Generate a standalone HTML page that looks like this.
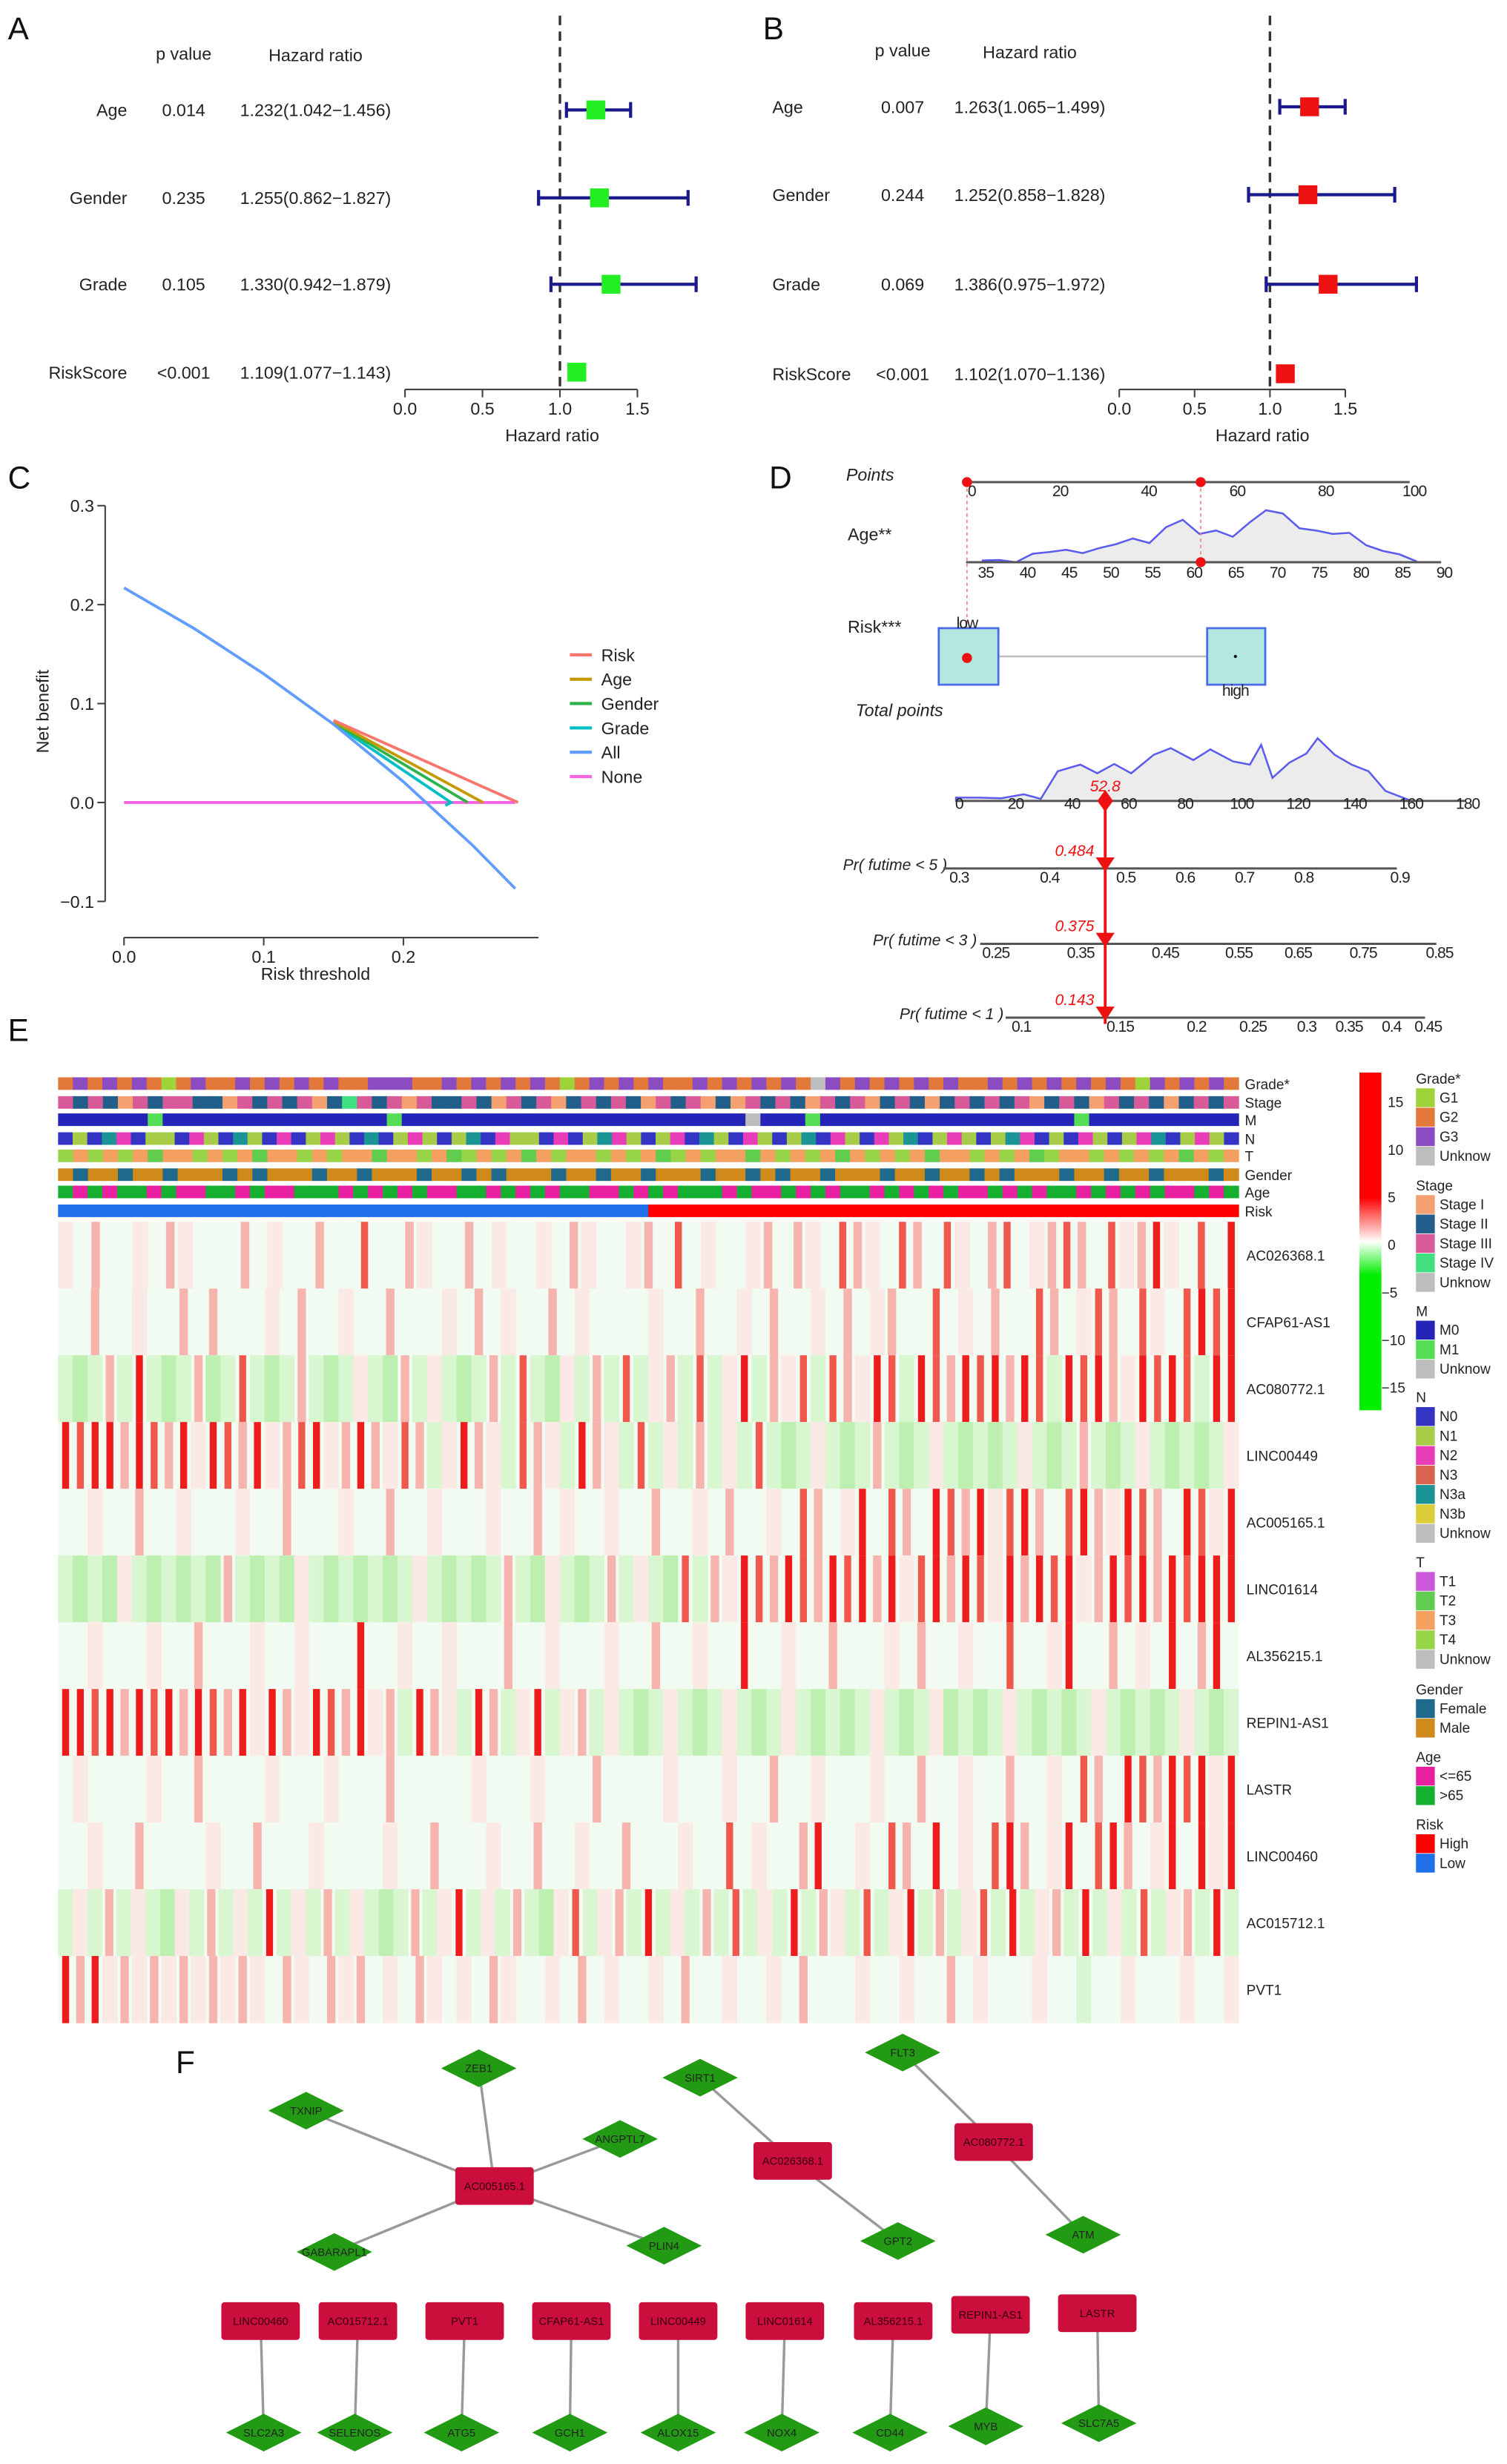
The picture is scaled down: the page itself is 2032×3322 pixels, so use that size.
<!DOCTYPE html>
<html><head><meta charset="utf-8"><title>Figure</title>
<style>
html,body{margin:0;padding:0;background:#fff;}
svg{display:block;font-family:"Liberation Sans",Arial,sans-serif;}
</style></head>
<body>
<svg id="fig" xmlns="http://www.w3.org/2000/svg" width="2032" height="3322" viewBox="0 0 960 1569" preserveAspectRatio="none">
<defs>
<linearGradient id="cbar" x1="0" y1="0" x2="0" y2="1">
<stop offset="0" stop-color="#ff0000"/><stop offset="0.37" stop-color="#ff0000"/>
<stop offset="0.5" stop-color="#ffffff"/><stop offset="0.6" stop-color="#00ee00"/><stop offset="1" stop-color="#00ee00"/>
</linearGradient>
</defs>
</svg>
<script>
// ---------- DATA ----------
const fpVars=["Age","Gender","Grade","RiskScore"];
const fpA_p=["0.014","0.235","0.105","<0.001"];
const fpA_hr=[1.232,1.255,1.330,1.109];
const fpA_lo=[1.042,0.862,0.942,1.077];
const fpA_hi=[1.456,1.827,1.879,1.143];
const fpB_p=["0.007","0.244","0.069","<0.001"];
const fpB_hr=[1.263,1.252,1.386,1.102];
const fpB_lo=[1.065,0.858,0.975,1.070];
const fpB_hi=[1.499,1.828,1.972,1.136];
const fpTicks=[0,0.5,1.0,1.5];

const dcaAllT=[0,0.05,0.10,0.15,0.20,0.25,0.28];
const dcaAllV=[0.217,0.176,0.130,0.079,0.021,-0.044,-0.087];
const dcaRiskT=[0.15,0.282]; const dcaRiskV=[0.083,0.0];
const dcaAgeT=[0.15,0.257]; const dcaAgeV=[0.082,0.0];
const dcaGenderT=[0.15,0.246]; const dcaGenderV=[0.081,0.0];
const dcaGradeT=[0.15,0.234,0.23]; const dcaGradeV=[0.080,0.0,-0.003];
const dcaNoneT=[0,0.28]; const dcaNoneV=[0,0];
const dcaXTicks=[0,0.1,0.2]; const dcaYTicks=[-0.1,0,0.1,0.2,0.3];

const ptsTicks=[0,20,40,60,80,100];
const ageTicks=[35,40,45,50,55,60,65,70,75,80,85,90];
const ageDensX=[35,37,39,41,43,45,47,49,51,53,55,57,59,61,63,65,67,69,71,73,75,77,79,81,83,85,87];
const ageDensY=[0.03,0.04,0.0,0.15,0.18,0.22,0.16,0.25,0.32,0.42,0.34,0.62,0.75,0.5,0.56,0.45,0.7,0.92,0.86,0.6,0.56,0.5,0.52,0.3,0.2,0.14,0.02];
const totTicks=[0,20,40,60,80,100,120,140,160,180];
const totDensX=[0,8,16,24,30,36,44,50,56,62,70,76,84,90,98,104,108,112,118,124,128,134,140,146,152,160];
const totDensY=[0.05,0.05,0.04,0.1,0.03,0.45,0.55,0.42,0.56,0.42,0.7,0.8,0.62,0.78,0.6,0.55,0.85,0.35,0.58,0.72,0.95,0.7,0.55,0.45,0.15,0.02];
const totalScore=52.8;
const pr5Ticks=["0.3","0.4","0.5","0.6","0.7","0.8","0.9"]; const pr5Pts=[0,32,59,80,101,122,156];
const pr3Ticks=["0.25","0.35","0.45","0.55","0.65","0.75","0.85"]; const pr3Pts=[13,43,73,99,120,143,170];
const pr1Ticks=["0.1","0.15","0.2","0.25","0.3","0.35","0.4","0.45"]; const pr1Pts=[22,57,84,104,123,138,153,166];
const prValues=["0.484","0.375","0.143"];

const annNames=["Grade*","Stage","M","N","T","Gender","Age","Risk"];
const annRows=[
"bcbcbcbabcbbcbcbcbcbbcccbbcbcbcbcbabcbcbcbbcbcbcbcbucbcbcbcbcbbcbcbcbcbcbacbcbcb",
"3232132332213232312432313223213231232321323121323213231232123232312321323212323",
"0000001000000000000000100000000000000000000000u00010000000000000000010000000000",
"abaecabbacbaebacabcbaeabcbabeacbbacabecbabcaebacbabeacbacbeabcbabecabacbabceabcba",
"4343432334343233434332334324343234334343243433234343234343233434324334343432343",
"mfmmfmmfmmmfmfmmmfmmfmmmfmmfmfmmmfmmfmmfmmmfmmfmfmmfmmmfmmfmmfmfmmmfmmfmmfmmmfm",
"oyoyooyoyyooyoyyoooyoyoyoyyooyoyoyooyyoyoyoooyoyyoyoyooyoyoyoyyoyoyooyoyoyoyyoyo",
"LLLLLLLLLLLLLLLLLLLLLLLLLLLLLLLLLLLLLLLLHHHHHHHHHHHHHHHHHHHHHHHHHHHHHHHHHHHHHHHH"];
const genes=["AC026368.1","CFAP61-AS1","AC080772.1","LINC00449","AC005165.1","LINC01614","AL356215.1","REPIN1-AS1","LASTR","LINC00460","AC015712.1","PVT1"];
const heatRows=[
"w.p..w.pw...p.w..p..r..pw..p.w..w.pw..wp.r.w..wp.pw.rpw.rp.rw.pr.wprp.rwpRw.r.R",
"..p..w..p.p...w.p..w..p...w.p.w..p.w....w..p..w.p..w.p.wp..r.w.p..rp.wrp.rw.rRrR",
"gGgpgRgGgpGgrgGgpgGgwgGpgwgGgpgrgGwgpgrgwpgrgwRgpwrgrpwRrgRrpRrRpRrgRrRpwRrRrgRR",
"RrRRpRrpRwRrpRwprRwpRpwrpgwRpwgrpwgRpwgrgwgpgwgrgGgwgGgpgGgwgGgGgwgGgpgGgwgGgGgw",
"..w..p..w...w..p...w..p..w...w..p.w..w..p..w.p..w.rp.wR.rp.RrpRwrRp.rRpwRrp.RrwR",
"gGgGwgGgGgGpgGgGwgGgGgGgwgGgGgpgGwgGgpgwgGrgpwRrpRrpRrRpRwrRpRrwRpRrRwpRrRpRrRRR",
"..w...w..p...w..w...R..w..w...p..w...w..p..w..R..w..p...w.p..w..r..wR..p.w.R.pR.",
"RRrRpRrRpRrpRwRpwRrpRwpgRpwgRpgwRgwpgwgGgwgGgwgGgwgGgGgwgGgwGgGgwgGgGgwgGgGgwgGg",
".w....w..p....w...w...p.....w...w...p....w...w..p..w...w..p..w..p..w.rp.RrpRrRwR",
"..w..p....w..p...w....w..p...w..p..w..p...w..r.w..pR..w.rp.R.w.rRp.wR.rRp.wR.RwR",
"gwgpgwgGwgpgwgRgwgpgwgGgpgwRgwgpgGwrgwpgRgwgpgrgwgRgpwgrgwRgpgwrgRgwpgRgwgrgwpgRg",
"RpRwpwpwpwpwpw.pw.pwp.w.pw.w.pw..w.p.w..w.p..w..w.p...w..w..p.w...w..g..w...w..w"];
const cbarTicks=[15,10,5,0,-5,-10,-15];

// ---------- helpers ----------
const S='http://www.w3.org/2000/svg';
const svg=document.getElementById('fig');
function mk(tag,attrs,parent){const e=document.createElementNS(S,tag);for(const k in attrs)e.setAttribute(k,attrs[k]);(parent||svg).appendChild(e);return e;}
function tx(x,y,s,size,anchor,parent,extra){const e=mk('text',Object.assign({x:x,y:y,'font-size':size,'text-anchor':anchor||'start',fill:'#222'},extra||{}),parent);e.textContent=s;return e;}
function grp(name){const g=mk('g',{});return g;}

[["A",5,25],["B",486,25],["C",5,311],["D",490,311],["E",5,663],["F",112,1320]].forEach(function(p){
 const t=tx(p[1],p[2],p[0],20,'start',svg,{fill:'#111'});
 
 
});

// ---------- Forest plots ----------
function forest(name,cfg,pv,hr,lo,hi,color){
 const g=grp(name);
 const X=v=>cfg.x0+v*cfg.k;
 const hp=tx(cfg.pX,cfg.hy,"p value",11,'middle',g);
 
 
 const hh=tx(cfg.hrX,cfg.hy+1,"Hazard ratio",11,'middle',g);
 
 
 const dl=mk('line',{x1:X(1),x2:X(1),y1:10,y2:cfg.axY,stroke:'#333','stroke-width':1.6,'stroke-dasharray':'6,4'},g);
 
 
 for(let i=0;i<fpVars.length;i++){
  const y=cfg.rows[i];
  const lb=tx(cfg.lx,y+4,fpVars[i],11,cfg.la,g);
  
  
  const pt=tx(cfg.pX,y+4,pv[i],11,'middle',g);
  
  
  const ht=tx(cfg.hrX,y+4,hr[i].toFixed(3)+"("+lo[i].toFixed(3)+"\u2212"+hi[i].toFixed(3)+")",11,'middle',g);
  
  
  const ci=mk('line',{x1:X(lo[i]),x2:X(hi[i]),y1:y,y2:y,stroke:'#1a1a8c','stroke-width':2},g);
  
  
  [lo[i],hi[i]].forEach(function(v){const c=mk('line',{x1:X(v),x2:X(v),y1:y-5,y2:y+5,stroke:'#1a1a8c','stroke-width':2},g);
   
   });
  const b=mk('rect',{x:X(hr[i])-6,y:y-6,width:12,height:12,fill:color},g);
  
  
 }
 const ax=mk('line',{x1:X(0),x2:X(1.5),y1:cfg.axY,y2:cfg.axY,stroke:'#444','stroke-width':1},g);
 
 
 fpTicks.forEach(function(v){
  const tk=mk('line',{x1:X(v),x2:X(v),y1:cfg.axY,y2:cfg.axY+5,stroke:'#444'},g);
  
  
  const tl=tx(X(v),cfg.axY+16,v.toFixed(1),11,'middle',g);
  
  
 });
 const at=tx(X(0.95),cfg.axY+33,"Hazard ratio",11,'middle',g);
 
 
}
forest('forest-plot-a',{x0:258,k:98.7,hy:38,pX:117,hrX:201,lx:81,la:'end',rows:[70,126,181,237],axY:248},fpA_p,fpA_hr,fpA_lo,fpA_hi,'#22ee22');
forest('forest-plot-b',{x0:713,k:96,hy:36,pX:575,hrX:656,lx:492,la:'start',rows:[68,124,181,238],axY:248},fpB_p,fpB_hr,fpB_lo,fpB_hi,'#ee1111');

// ---------- DCA ----------
(function(){
 const g=grp('decision-curve-chart');
 const X=t=>79+t*890, Y=v=>511-v*630;
 const ya=mk('line',{x1:67,x2:67,y1:Y(0.3),y2:Y(-0.1),stroke:'#444'},g);
 
 
 dcaYTicks.forEach(function(v){
  const t=mk('line',{x1:62,x2:67,y1:Y(v),y2:Y(v),stroke:'#444'},g);
  
  
  const l=tx(60,Y(v)+4,(v<0?"\u2212":"")+Math.abs(v).toFixed(1),11,'end',g);
  
  
 });
 const xa=mk('line',{x1:X(0),x2:X(0.2),y1:597,y2:597,stroke:'#444'},g);
 
 
 const xa2=mk('line',{x1:X(0.2),x2:343,y1:597,y2:597,stroke:'#444'},g);
 
 
 dcaXTicks.forEach(function(v){
  const t=mk('line',{x1:X(v),x2:X(v),y1:597,y2:602,stroke:'#444'},g);
  
  
  const l=tx(X(v),613,v.toFixed(1),11,'middle',g);
  
  
 });
 const yt=tx(0,0,"Net benefit",11,'middle',g,{transform:'translate(31,453) rotate(-90)'});
 
 
 const xt=tx(201,624,"Risk threshold",11,'middle',g);
 
 
 const series=[["None",dcaNoneT,dcaNoneV,'#f564e3'],["Grade",dcaGradeT,dcaGradeV,'#00bfc4'],["Gender",dcaGenderT,dcaGenderV,'#2cb34a'],["Age",dcaAgeT,dcaAgeV,'#c49a00'],["Risk",dcaRiskT,dcaRiskV,'#f8766d'],["All",dcaAllT,dcaAllV,'#619cff']];
 series.forEach(function(s){
  const d=s[1].map((t,i)=>(i?'L':'M')+X(t).toFixed(1)+','+Y(s[2][i]).toFixed(1)).join(' ');
  const p=mk('path',{d:d,fill:'none',stroke:s[3],'stroke-width':1.8},g);
  
  
 });
 const leg=[["Risk",'#f8766d'],["Age",'#c49a00'],["Gender",'#2cb34a'],["Grade",'#00bfc4'],["All",'#619cff'],["None",'#f564e3']];
 leg.forEach(function(l,i){
  const y=417+i*15.5;
  const ln=mk('line',{x1:363,x2:377,y1:y,y2:y,stroke:l[1],'stroke-width':2},g);
  
  
  const t=tx(383,y+4,l[0],11,'start',g);
  
  
 });
})();

// ---------- Nomogram ----------
(function(){
 const g=grp('nomogram');
 const PX=v=>616+v*2.82, AX=a=>626+(a-35)*5.31, TX=v=>609+v*1.8;
 function lab(x,y,s,name){const t=tx(x,y,s,11,'start',g,{'font-style':'italic'});}
 lab(539,306,"Points",'points-label');
 const ag=tx(540,344,"Age**",11,'start',g);  
 const rk=tx(540,403,"Risk***",11,'start',g);  
 lab(545,456,"Total points",'total-points-label');
 function axis(x1,x2,y,name){const l=mk('line',{x1:x1,x2:x2,y1:y,y2:y,stroke:'#555','stroke-width':1.4},g);}
 function tl(x,y,s,name){const t=tx(x,y,s,10,'middle',g,{'letter-spacing':'-0.5'});}
 axis(PX(0),PX(100),307,'points-axis');
 ptsTicks.forEach(v=>tl(PX(v)+3,316,String(v),'points-tick-label'));
 let d='M'+AX(ageDensX[0])+',358 '+ageDensX.map((a,i)=>'L'+AX(a).toFixed(1)+','+(358-ageDensY[i]*36).toFixed(1)).join(' ')+' L'+AX(ageDensX[ageDensX.length-1])+',358 Z';
 const ad=mk('path',{d:d,fill:'#ececec',stroke:'#5b5bee','stroke-width':1.2},g);
 
 
 axis(AX(33),AX(90),358,'age-axis');
 ageTicks.forEach(v=>tl(AX(v)+2,368,String(v),'age-tick-label'));
 const g1=mk('line',{x1:PX(0),x2:PX(0),y1:307,y2:420,stroke:'#f08080','stroke-width':0.8,'stroke-dasharray':'2,2'},g);
  
 const g2=mk('line',{x1:PX(52.8),x2:PX(52.8),y1:307,y2:358,stroke:'#f08080','stroke-width':0.8,'stroke-dasharray':'2,2'},g);
  
 [[PX(0),307],[PX(52.8),307],[PX(52.8),358]].forEach(function(p){const c=mk('circle',{cx:p[0],cy:p[1],r:3.2,fill:'#ee1111'},g);});
 const rl=mk('line',{x1:636,x2:769,y1:418,y2:418,stroke:'#bbb','stroke-width':1.2},g);
  
 const b1=mk('rect',{x:598,y:400,width:38,height:36,fill:'#b2e8e0',stroke:'#4a6ae8','stroke-width':1.3},g);
  
 const b2=mk('rect',{x:769,y:400,width:37,height:36,fill:'#b2e8e0',stroke:'#4a6ae8','stroke-width':1.3},g);
  
 const c1=mk('circle',{cx:616,cy:419,r:3.2,fill:'#ee1111'},g);  
 const c2=mk('circle',{cx:787,cy:418,r:1,fill:'#111'},g);  
 tl(616,400,"low",'risk-low-label'); tl(787,443,"high",'risk-high-label');
 d='M'+TX(totDensX[0])+',510 '+totDensX.map((a,i)=>'L'+TX(a).toFixed(1)+','+(510-totDensY[i]*42).toFixed(1)).join(' ')+' L'+TX(totDensX[totDensX.length-1])+',510 Z';
 const td=mk('path',{d:d,fill:'#ececec',stroke:'#5b5bee','stroke-width':1.2},g);
  
 axis(TX(0),TX(180),510,'total-points-axis');
 totTicks.forEach(v=>tl(TX(v)+2,515,String(v),'total-points-tick-label'));
 const prRows=[["Pr( futime < 5 )",553,pr5Ticks,pr5Pts,537],["Pr( futime < 3 )",601,pr3Ticks,pr3Pts,556],["Pr( futime < 1 )",648,pr1Ticks,pr1Pts,573]];
 prRows.forEach(function(r){
  const t=tx(r[4],r[1]+1,r[0],10,'start',g,{'font-style':'italic'});
   
  axis(TX(r[3][0])-8,TX(r[3][r[3].length-1]),r[1],'probability-axis');
  r[2].forEach((s,i)=>tl(TX(r[3][i])+2,r[1]+9,s,'probability-tick-label'));
 });
 const rx=TX(totalScore);
 const vl=mk('line',{x1:rx,x2:rx,y1:510,y2:652,stroke:'#ee1111','stroke-width':1.8},g);
  
 const dm=mk('path',{d:`M${rx},503 L${rx+5},510 L${rx},517 L${rx-5},510 Z`,fill:'#ee1111'},g);
  
 [553,601,648].forEach(function(y){const a=mk('path',{d:`M${rx-6},${y-7} L${rx+6},${y-7} L${rx},${y+2} Z`,fill:'#ee1111'},g);});
 const sv=tx(rx,504,String(totalScore),10,'middle',g,{fill:'#ee1111','font-style':'italic'});
  
 [545,593,640].forEach(function(y,i){const t=tx(rx-7,y,prValues[i],10,'end',g,{fill:'#ee1111','font-style':'italic'});});
})();

// ---------- Heatmap ----------
(function(){
 const g=grp('heatmap');
 const x0=37,x1=789;
 const annCol={a:'#9ed43a',b:'#e2793a',c:'#8a4cc0',u:'#bdbdbd','1':'#f4a070','2':'#215f8a','3':'#d85a98','4':'#40e080','0':'#2424b8',
  N:{a:'#3434c4',b:'#a6cc48',c:'#e83cb8',d:'#d8644e',e:'#1a9494',f:'#dccc38',u:'#bdbdbd'},
  T:{'1':'#cc58dc','2':'#60cc50','3':'#f4a060','4':'#98d448','u':'#bdbdbd'},
  f:'#1f6a8c',m:'#d08a1a',y:'#e81fa0',o:'#16b030',L:'#1e6fe8',H:'#ff0000'};
 const annY=[686,698,709,721,732,744,755,767];
 annRows.forEach(function(s,r){
  const w=(x1-x0)/s.length;
  for(let i=0;i<s.length;i++){
   const ch=s[i];
   let col;
   if(r===3) col=annCol.N[ch]; else if(r===4) col=annCol.T[ch]; else if(r===2) col=(ch==='1'?'#55dd55':annCol[ch]); else col=annCol[ch];
   const c=mk('rect',{x:(x0+i*w).toFixed(2),y:annY[r],width:(w+0.3).toFixed(2),height:8,fill:col},g);
   
   
  }
  const t=tx(793,annY[r]+7.5,annNames[r],9,'start',g);
  
  
 });
 const hc={'.':'#f1fbf1','w':'#fbe9e6','p':'#f7b4ae','r':'#f0584e','R':'#ee1c1c','g':'#d8f6cf','G':'#bdf0b0'};
 const top=778,rh=42.5;
 heatRows.forEach(function(s,r){
  const w=(x1-x0)/s.length;
  const bg=mk('rect',{x:x0,y:top+r*rh,width:x1-x0,height:rh+0.3,fill:'#f2fbf2'},g);
  
  
  for(let i=0;i<s.length;i++){
   const ch=s[i];
   const frac=(ch==='R'||ch==='r')?0.45:(ch==='p'?0.55:1);
   if(ch==='.') continue;
   const cw=w*frac, cx=x0+i*w+(w-cw)/2;
   const c=mk('rect',{x:cx.toFixed(2),y:top+r*rh,width:(cw+0.2).toFixed(2),height:rh+0.3,fill:hc[ch]},g);
   
   
  }
  const t=tx(794,top+r*rh+rh/2+3.5,genes[r],9,'start',g);
  
  
 });
 const cb=mk('rect',{x:866,y:683,width:14,height:215,fill:'url(#cbar)'},g);
 
 
 cbarTicks.forEach(function(v,i){const t=tx(v<0?880:884,705+i*30.3,(v<0?"\u2212":"")+Math.abs(v),9,'start',g);});
 const legend=[["Grade*",687,[["G1",'#9ed43a'],["G2",'#e2793a'],["G3",'#8a4cc0'],["Unknow",'#bdbdbd']]],
  ["Stage",755,[["Stage I",'#f4a070'],["Stage II",'#215f8a'],["Stage III",'#d85a98'],["Stage IV",'#40e080'],["Unknow",'#bdbdbd']]],
  ["M",835,[["M0",'#2424b8'],["M1",'#55dd55'],["Unknow",'#bdbdbd']]],
  ["N",890,[["N0",'#3434c4'],["N1",'#a6cc48'],["N2",'#e83cb8'],["N3",'#d8644e'],["N3a",'#1a9494'],["N3b",'#dccc38'],["Unknow",'#bdbdbd']]],
  ["T",995,[["T1",'#cc58dc'],["T2",'#60cc50'],["T3",'#f4a060'],["T4",'#98d448'],["Unknow",'#bdbdbd']]],
  ["Gender",1076,[["Female",'#1f6a8c'],["Male",'#d08a1a']]],
  ["Age",1119,[["<=65",'#e81fa0'],[">65",'#16b030']]],
  ["Risk",1162,[["High",'#ff0000'],["Low",'#1e6fe8']]]];
 legend.forEach(function(L){
  const t=tx(902,L[1]+3,L[0],9,'start',g);
  
  
  L[2].forEach(function(e,i){
   const y=L[1]+6+i*12.4;
   const sw=mk('rect',{x:902,y:y,width:12,height:12,fill:e[1]},g);
   
   
   const lt=tx(917,y+9,e[0],9,'start',g);
   
   
  });
 });
})();

// ---------- Network ----------
(function(){
 const g=grp('network-graph');
 const lnc=[["AC005165.1",315,1392],["AC026368.1",505,1376],["AC080772.1",633,1364],["LINC00460",166,1478],["AC015712.1",228,1478],["PVT1",296,1478],["CFAP61-AS1",364,1478],["LINC00449",432,1478],["LINC01614",500,1478],["AL356215.1",569,1478],["REPIN1-AS1",631,1474],["LASTR",699,1473]];
 const mrna=[["TXNIP",195,1344],["ZEB1",305,1317],["ANGPTL7",395,1362],["PLIN4",423,1430],["GABARAPL1",213,1434],["SIRT1",446,1323],["GPT2",572,1427],["FLT3",575,1307],["ATM",690,1423],["SLC2A3",168,1549],["SELENOS",226,1549],["ATG5",294,1549],["GCH1",363,1549],["ALOX15",432,1549],["NOX4",498,1549],["CD44",567,1549],["MYB",628,1545],["SLC7A5",700,1543]];
 const edges=[["AC005165.1","TXNIP"],["AC005165.1","ZEB1"],["AC005165.1","ANGPTL7"],["AC005165.1","PLIN4"],["AC005165.1","GABARAPL1"],["AC026368.1","SIRT1"],["AC026368.1","GPT2"],["AC080772.1","FLT3"],["AC080772.1","ATM"],["LINC00460","SLC2A3"],["AC015712.1","SELENOS"],["PVT1","ATG5"],["CFAP61-AS1","GCH1"],["LINC00449","ALOX15"],["LINC01614","NOX4"],["AL356215.1","CD44"],["REPIN1-AS1","MYB"],["LASTR","SLC7A5"]];
 const pos={}; lnc.concat(mrna).forEach(n=>pos[n[0]]=[n[1],n[2]]);
 edges.forEach(function(e){const a=pos[e[0]],b=pos[e[1]];const l=mk('line',{x1:a[0],y1:a[1],x2:b[0],y2:b[1],stroke:'#999','stroke-width':1.6},g);});
 mrna.forEach(function(n){
  const x=n[1],y=n[2];
  const d=mk('path',{d:`M${x-24},${y} L${x},${y-12} L${x+24},${y} L${x},${y+12} Z`,fill:'#229a14'},g);
  
  
  const t=tx(x,y+2.5,n[0],7,'middle',g,{fill:'#222'});
  
  
 });
 lnc.forEach(function(n){
  const x=n[1],y=n[2];
  const r=mk('rect',{x:x-25,y:y-12,width:50,height:24,rx:2,fill:'#cc0e3c'},g);
  
  
  const t=tx(x,y+2.5,n[0],7,'middle',g,{fill:'#330010'});
  
  
 });
})();
</script>
</body></html>
